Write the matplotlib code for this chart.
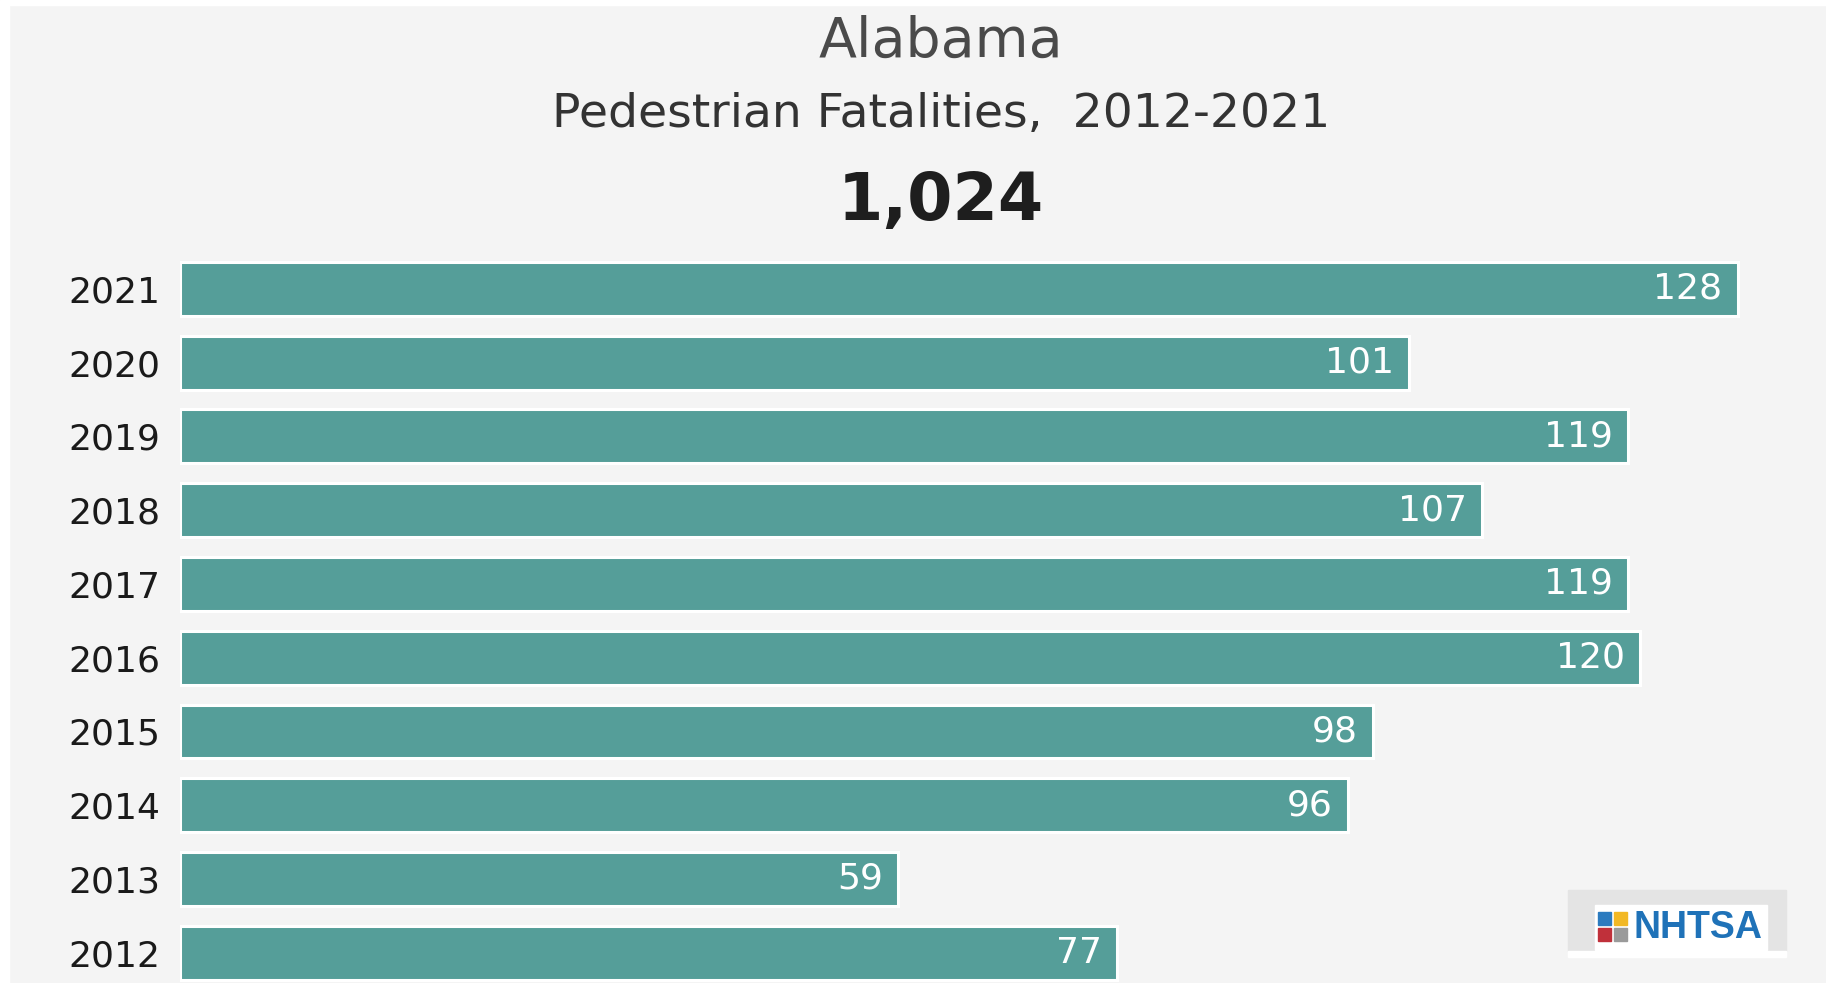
import numpy as np
from matplotlib import pyplot as plt
from matplotlib.patches import Rectangle

years = ["2012", "2013", "2014", "2015", "2016", "2017", "2018", "2019", "2020", "2021"]
fatalities = [77, 59, 96, 98, 120, 119, 107, 119, 101, 128]
state = "Alabama"
subtitle = "Pedestrian Fatalities,  2012-2021"
total = "1,024"

bg = "#f4f4f4"
teal = "#559e99"
W, H = 1826, 983

fig = plt.figure(figsize=(W / 100, H / 100), dpi=100, facecolor=bg)

# white strips along left and top edge of the screenshot
fig.patches.append(Rectangle((0, 0), 9 / W, 1, transform=fig.transFigure, color="white", zorder=0))
fig.patches.append(Rectangle((0, 1 - 5 / H), 1, 5 / H, transform=fig.transFigure, color="white", zorder=0))

ax = fig.add_axes([180 / W, 0, 1 - 180 / W, 731 / H])
ax.set_facecolor(bg)
y = np.arange(len(years))
ax.barh(y, fatalities, height=0.73, color=teal, edgecolor="white", linewidth=2.2)
ax.set_xlim(0, 1646 / 12.17)
ax.set_ylim(-0.41, 9.5)
ax.set_yticks(y)
ax.set_yticklabels(years, fontsize=26, color="#1a1a1a")
ax.tick_params(axis="y", length=0, pad=14)
ax.set_xticks([])
for s in ax.spines.values():
    s.set_visible(False)

for i, v in enumerate(fatalities):
    ax.annotate(str(v), (v, i), xytext=(-11, 0), textcoords="offset points",
                ha="right", va="center", fontsize=26, color="white")

fig.text(941 / W, 1 - 42 / H, state, ha="center", va="center", fontsize=40, color="#4a4a4a")
fig.text(941 / W, 1 - 115 / H, subtitle, ha="center", va="center", fontsize=34, color="#333333")
fig.text(941 / W, 1 - 202 / H, total, ha="center", va="center", fontsize=47,
         fontweight="bold", color="#1e1e1e")

# NHTSA logo box
def fbox(x0, y0, x1, y1, c):
    fig.patches.append(Rectangle((x0 / W, 1 - y1 / H), (x1 - x0) / W, (y1 - y0) / H,
                                 transform=fig.transFigure, color=c, zorder=1))

fbox(1568, 890, 1786, 951, "#e4e4e4")
fbox(1568, 951, 1786, 957, "white")
fbox(1595, 905, 1767, 950, "white")
fbox(1598, 912, 1611, 925, "#2b7bbf")
fbox(1614, 912, 1627, 925, "#f2b824")
fbox(1598, 928, 1611, 941, "#c0303a")
fbox(1614, 928, 1627, 941, "#9a9a9a")
fig.text(1633 / W, 1 - 928 / H, "NHTSA", ha="left", va="center", fontsize=27,
         fontweight="bold", family="Liberation Sans", color="#1f72b8", zorder=2)

plt.savefig("out.png", dpi=100, facecolor=bg)
